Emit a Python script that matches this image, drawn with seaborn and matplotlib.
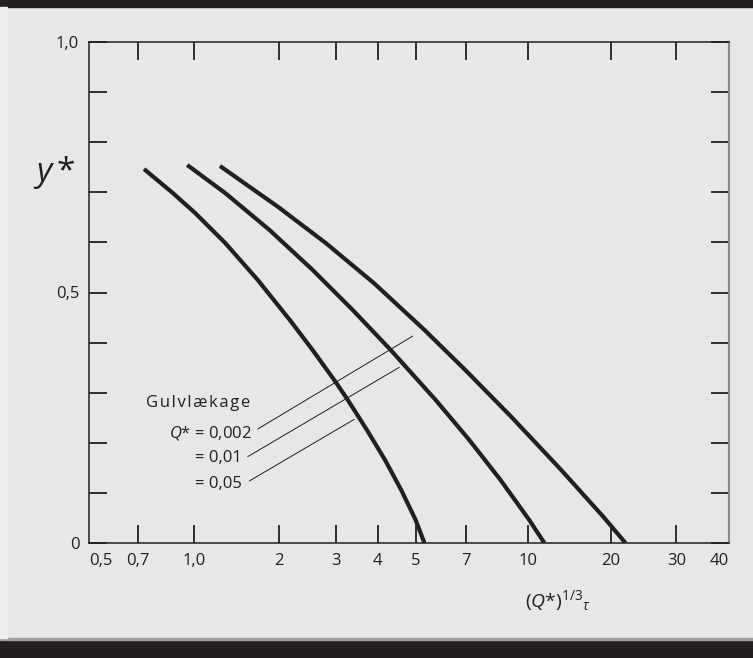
#importing libraries
import numpy as np
import pandas as pd
import seaborn as sns
import matplotlib
matplotlib.use('Agg')
import matplotlib.pyplot as plt
from matplotlib.patches import Rectangle

#curves, one per floor leakage Q*
x_q002 = [1.234, 1.980, 2.796, 3.902, 5.306, 6.981, 9.092, 13.23, 18.79, 21.91]
y_q002 = [0.7525, 0.6713, 0.5982, 0.5184, 0.4251, 0.3453, 0.2521, 0.1457, 0.0525, 0.0]

x_q01 = [0.956, 1.287, 1.850, 2.542, 3.367, 4.318, 5.72, 7.146, 8.554, 10.13, 11.49]
y_q01 = [0.7545, 0.6986, 0.6248, 0.5449, 0.4651, 0.3852, 0.2854, 0.2056, 0.1257, 0.0459, 0.0]

x_q05 = [0.726, 0.872, 1.007, 1.288, 1.681, 2.160, 2.540, 2.988, 3.231, 3.715, 4.176, 4.592, 4.998, 5.302]
y_q05 = [0.7465, 0.6986, 0.6587, 0.5988, 0.525, 0.4451, 0.3852, 0.322, 0.2888, 0.2255, 0.1657, 0.1058, 0.0459, 0.0]

#tick values and labels
x_ticks = [0.5, 0.7, 1, 2, 3, 4, 5, 7, 10, 20, 30, 40]
x_tick_labels = ['0,5', '0,7', '1,0', '2', '3', '4', '5', '7', '10', '20', '30', '40']
y_ticks = [0, 0.1, 0.2, 0.3, 0.4, 0.5, 0.6, 0.7, 0.8, 0.9, 1.0]
y_tick_labels = ['0', '', '', '', '', '0,5', '', '', '', '', '1,0']

#the printed x scale is a hand drawn log scale, these are where its ticks sit (fraction of axis width)
scale_frac = [0, 0.077, 0.1645, 0.2969, 0.3859, 0.4511, 0.5105, 0.5886, 0.6855, 0.8152, 0.9177, 1.0]
log_ticks = np.log10(x_ticks)

def fwd(x):
    l = np.log10(np.maximum(np.asarray(x, dtype=float), 1e-9))
    f = np.interp(l, log_ticks, scale_frac)
    s0 = (scale_frac[1] - scale_frac[0]) / (log_ticks[1] - log_ticks[0])
    s1 = (scale_frac[-1] - scale_frac[-2]) / (log_ticks[-1] - log_ticks[-2])
    f = np.where(l < log_ticks[0], scale_frac[0] + (l - log_ticks[0]) * s0, f)
    f = np.where(l > log_ticks[-1], scale_frac[-1] + (l - log_ticks[-1]) * s1, f)
    return f

def inv(f):
    f = np.asarray(f, dtype=float)
    l = np.interp(f, scale_frac, log_ticks)
    s0 = (log_ticks[1] - log_ticks[0]) / (scale_frac[1] - scale_frac[0])
    s1 = (log_ticks[-1] - log_ticks[-2]) / (scale_frac[-1] - scale_frac[-2])
    l = np.where(f < scale_frac[0], log_ticks[0] + (f - scale_frac[0]) * s0, l)
    l = np.where(f > scale_frac[-1], log_ticks[-1] + (f - scale_frac[-1]) * s1, l)
    return 10 ** l

df = pd.concat([
    pd.DataFrame({'x': x_q002, 'y': y_q002, 'Q': '0,002'}),
    pd.DataFrame({'x': x_q01, 'y': y_q01, 'Q': '0,01'}),
    pd.DataFrame({'x': x_q05, 'y': y_q05, 'Q': '0,05'}),
])

dark = '#231f20'
bg = '#e6e7e8'

sns.set_theme(style='ticks')
plt.rcParams['font.family'] = ['Open Sans', 'DejaVu Sans']
plt.rcParams['mathtext.fontset'] = 'custom'
plt.rcParams['mathtext.rm'] = 'Open Sans'
plt.rcParams['mathtext.it'] = 'Open Sans:italic'
plt.rcParams['mathtext.bf'] = 'Open Sans:bold'
plt.rcParams['text.color'] = dark

fig = plt.figure(figsize=(7.53, 6.58), dpi=100)
fig.patch.set_facecolor(bg)
#dark bands top and bottom
fig.patches.append(Rectangle((0, 1 - 7/658), 1, 7/658, transform=fig.transFigure, color=dark, zorder=0))
fig.patches.append(Rectangle((0, 0), 1, 18/658, transform=fig.transFigure, color=dark, zorder=0))
fig.patches.append(Rectangle((0, 18/658), 1, 2/658, transform=fig.transFigure, color='#9d9d9f', zorder=0))
fig.patches.append(Rectangle((0, 20/658), 7/753, 1 - 27/658, transform=fig.transFigure, color='#eeeeef', zorder=0))

ax = fig.add_axes([89/753, 115/658, 640/753, 501/658])
ax.set_facecolor(bg)

sns.lineplot(data=df, x='x', y='y', hue='Q', palette=[dark]*3, linewidth=3,
             legend=False, sort=False, estimator=None, ax=ax)
for ln in ax.lines:
    ln.set_solid_capstyle('butt')
    ln.set_solid_joinstyle('round')

ax.set_xscale('function', functions=(fwd, inv))
ax.set_xlim(0.5, 40)
ax.set_ylim(0, 1)
ax.set_xticks(x_ticks, labels=x_tick_labels)
ax.set_yticks(y_ticks, labels=y_tick_labels)
ax.minorticks_off()
ax.set_xlabel('')
ax.set_ylabel('')

ax.tick_params(which='both', direction='in', length=13, width=1.3, color=dark,
               top=True, right=True, labelsize=12, labelcolor=dark, pad=7)
lbls = ax.get_xticklabels()
lbls[0].set_ha('left')
lbls[-1].set_ha('right')
xt = ax.xaxis.get_major_ticks()
for t in (xt[0], xt[-1]):
    t.tick1line.set_visible(False)
    t.tick2line.set_visible(False)

for s in ['top', 'left', 'bottom']:
    ax.spines[s].set_color(dark)
    ax.spines[s].set_linewidth(1.1)
ax.spines['right'].set_color('#8c8c8e')
ax.spines['right'].set_linewidth(1.6)

#legend text with leader lines
ax.text(0.735, 0.2794, '\u200a'.join('Gulvlækage'), ha='left', va='center', fontsize=12)
ax.text(1.604, 0.2196, '$Q$* = 0,002', ha='right', va='center', fontsize=12)
ax.text(1.477, 0.1697, '= 0,01', ha='right', va='center', fontsize=12)
ax.text(1.477, 0.1178, '= 0,05', ha='right', va='center', fontsize=12)
lead = dict(arrowstyle='-', lw=0.7, color=dark, shrinkA=0, shrinkB=0)
ax.annotate('', xy=(4.914, 0.413), xytext=(1.680, 0.2275), arrowprops=lead)
ax.annotate('', xy=(4.542, 0.3507), xytext=(1.548, 0.1723), arrowprops=lead)
ax.annotate('', xy=(3.404, 0.2469), xytext=(1.569, 0.1238), arrowprops=lead)

#axis titles
ax.text(-0.055, 0.74, r'$y\,$*', transform=ax.transAxes, fontsize=24, ha='center', va='center')
ax.text(0.733, -0.114, r'$\mathit{(Q{*})}^{1/3}{}_{\tau}$', transform=ax.transAxes, fontsize=14,
        ha='center', va='center')

fig.savefig('out.png', dpi=100, facecolor=fig.get_facecolor())
